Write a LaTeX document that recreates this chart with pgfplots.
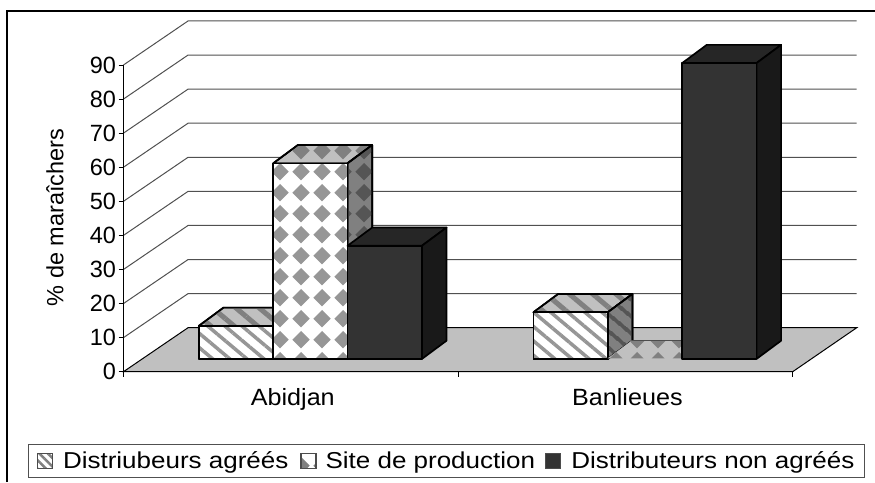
\documentclass[border=0pt]{standalone}
\usepackage{fontspec}
\setmainfont{Liberation Sans}
\newfontfamily\legfont{Liberation Sans}[FakeStretch=1.13]
\newfontfamily\catfont{Liberation Sans}[FakeStretch=1.07]
\usepackage{pgfplots}
\pgfplotsset{compat=1.18}
\usetikzlibrary{patterns,patterns.meta}

\definecolor{floorgray}{HTML}{C0C0C0}
\definecolor{gridgray}{HTML}{505050}
\definecolor{patlight}{HTML}{969696}
\definecolor{patmid}{HTML}{808080}
\definecolor{patdark}{HTML}{555555}

\pgfdeclarepatternformonly{diamondgrid}{\pgfqpoint{-3.5pt}{5.8pt}}{\pgfqpoint{17.5pt}{26.8pt}}{\pgfqpoint{21pt}{21pt}}{%
  \pgfpathmoveto{\pgfqpoint{-1.7pt}{16.3pt}}
  \pgfpathlineto{\pgfqpoint{7pt}{25pt}}
  \pgfpathlineto{\pgfqpoint{15.7pt}{16.3pt}}
  \pgfpathlineto{\pgfqpoint{7pt}{7.6pt}}
  \pgfpathclose
  \pgfusepath{fill}}

\pgfplotsset{
  edge/.style={draw=black, line width=1.7pt, line join=round},
  stripefront/.style={edge, preaction={fill=white}, pattern={Lines[angle=-40,distance=11pt,line width=3.5pt]}, pattern color=patlight},
  stripetop/.style={edge, preaction={fill=floorgray}, pattern={Lines[angle=-40,distance=15pt,line width=5pt]}, pattern color=patmid},
  stripeside/.style={edge, preaction={fill=patmid}, pattern={Lines[angle=-40,distance=13pt,line width=4pt]}, pattern color=patdark},
  dotfront/.style={edge, preaction={fill=white}, pattern=diamondgrid, pattern color=patlight},
  dottop/.style={edge, preaction={fill=floorgray}, pattern=diamondgrid, pattern color=patmid},
  dotside/.style={edge, preaction={fill=patmid}, pattern=diamondgrid, pattern color=patdark},
  flatfront/.style={draw=none, fill=none},
  flattop/.style={draw=none, preaction={fill=floorgray}, pattern=diamondgrid, pattern color=patmid},
  flatside/.style={draw=none, fill=none},
  darkfront/.style={edge, fill=black!80},
  darktop/.style={edge, fill=black!85},
  darkside/.style={edge, fill=black!90},
  gridline/.style={draw=gridgray, line width=1pt},
}

% left edge in category units, value in %, style prefix
\newcommand{\cube}[3]{%
  \pgfmathsetmacro\xa{#1+0.0583}%
  \pgfmathsetmacro\xb{\xa+0.2222}%
  \pgfmathsetmacro\xc{\xa+0.0738}%
  \pgfmathsetmacro\xd{\xb+0.0738}%
  \pgfmathsetmacro\ya{3.73}%
  \pgfmathsetmacro\yb{3.73+#2}%
  \pgfmathsetmacro\yc{\ya+5.37}%
  \pgfmathsetmacro\yd{\yb+5.37}%
  \edef\temp{\noexpand\addplot[forget plot,#3top] coordinates {(\xa,\yb)(\xb,\yb)(\xd,\yd)(\xc,\yd)} -- cycle;
    \noexpand\addplot[forget plot,#3side] coordinates {(\xb,\ya)(\xd,\yc)(\xd,\yd)(\xb,\yb)} -- cycle;
    \noexpand\addplot[forget plot,#3front] coordinates {(\xa,\ya)(\xb,\ya)(\xb,\yb)(\xa,\yb)} -- cycle;}%
  \temp
}

\begin{document}
\begin{tikzpicture}[x=1pt,y=1pt]
  \path[use as bounding box] (0,0) rectangle (875,482);
  \draw[black, line width=2pt] (7,0) -- (7,471) -- (875,471);

  \begin{axis}[
    at={(123.5pt,110.3pt)},
    anchor=south west,
    scale only axis,
    width=733.2pt,
    height=350.7pt,
    xmin=0, xmax=2.1913,
    ymin=0, ymax=102.9,
    clip=false,
    axis lines=left,
    axis line style={draw=none},
    tick align=outside,
    tick pos=left,
    major tick length=5pt,
    minor tick length=5pt,
    xtick={0.5,1.5},
    xticklabels={Abidjan,Banlieues},
    minor xtick={0,1,2},
    major x tick style={draw=none},
    minor x tick style={draw=black, line width=0.8pt},
    ytick={0,10,...,90},
    ytick style={draw=black, line width=0.8pt},
    tick label style={font=\fontsize{23.5}{26}\selectfont},
    x tick label style={font=\fontsize{23.5}{26}\selectfont\catfont, xshift=2pt, yshift=-8pt},
    y tick label style={xshift=1pt},
    /pgf/number format/assume math mode=true,
    ylabel={\% de maraîchers},
    every axis y label/.style={at={(rel axis cs:-0.0934,0.44)}, rotate=90, anchor=center, font=\fontsize{23.5}{26}\selectfont},
    legend columns=3,
    legend style={
      at={(rel axis cs:0.4405,-0.255)},
      anchor=center,
      draw=gridgray,
      line width=1pt,
      font=\fontsize{23}{26}\selectfont\legfont,
      inner xsep=8.5pt,
      inner ysep=5pt,
      /tikz/column 1/.style={column sep=7pt},
      /tikz/column 2/.style={column sep=10pt},
      /tikz/column 3/.style={column sep=7pt},
      /tikz/column 4/.style={column sep=8pt},
      /tikz/column 5/.style={column sep=8pt},
    },
    legend cell align=left,
  ]

  % floor and walls
  \addplot[forget plot, fill=floorgray, draw=black, line width=1pt] coordinates {(0,0)(2,0)(2.1913,12.9)(0.1928,12.9)} -- cycle;
  \addplot[forget plot, gridline] coordinates {(0,10)(0.1928,22.9)(2.1913,22.9)};
  \addplot[forget plot, gridline] coordinates {(0,20)(0.1928,32.9)(2.1913,32.9)};
  \addplot[forget plot, gridline] coordinates {(0,30)(0.1928,42.9)(2.1913,42.9)};
  \addplot[forget plot, gridline] coordinates {(0,40)(0.1928,52.9)(2.1913,52.9)};
  \addplot[forget plot, gridline] coordinates {(0,50)(0.1928,62.9)(2.1913,62.9)};
  \addplot[forget plot, gridline] coordinates {(0,60)(0.1928,72.9)(2.1913,72.9)};
  \addplot[forget plot, gridline] coordinates {(0,70)(0.1928,82.9)(2.1913,82.9)};
  \addplot[forget plot, gridline] coordinates {(0,80)(0.1928,92.9)(2.1913,92.9)};
  \addplot[forget plot, gridline] coordinates {(0,90)(0.1928,102.9)(2.1913,102.9)};
  \addplot[forget plot, draw=black, line width=1pt] coordinates {(0,90)(0,0)(2,0)};

  % Abidjan
  \cube{0.1667}{9.7}{stripe}
  \cube{0.3889}{57.4}{dot}
  \cube{0.6111}{33.2}{dark}
  % Banlieues
  \cube{1.1667}{13.7}{stripe}
  \cube{1.3889}{0.2}{flat}
  \addplot[forget plot, draw=black!70, line width=1pt] coordinates {(1.5210,9.3)(1.7432,9.3)};
  \cube{1.6111}{86.8}{dark}

  \addlegendimage{legend image code/.code={\draw[draw=black!70, line width=1.2pt, preaction={fill=white}, pattern={Lines[angle=-45,distance=6pt,line width=2.5pt]}, pattern color=patmid] (0pt,-7pt) rectangle (15pt,8pt);}}
  \addlegendentry{Distriubeurs agréés}
  \addlegendimage{legend image code/.code={\draw[draw=black!70, line width=1.2pt, preaction={fill=white}, pattern=diamondgrid, pattern color=patmid] (0pt,-7pt) rectangle (15pt,8pt);}}
  \addlegendentry{Site de production}
  \addlegendimage{legend image code/.code={\draw[draw=black!70, line width=1.2pt, fill=black!80] (0pt,-7pt) rectangle (15pt,8pt);}}
  \addlegendentry{Distributeurs non agréés}
  \end{axis}
\end{tikzpicture}
\end{document}
